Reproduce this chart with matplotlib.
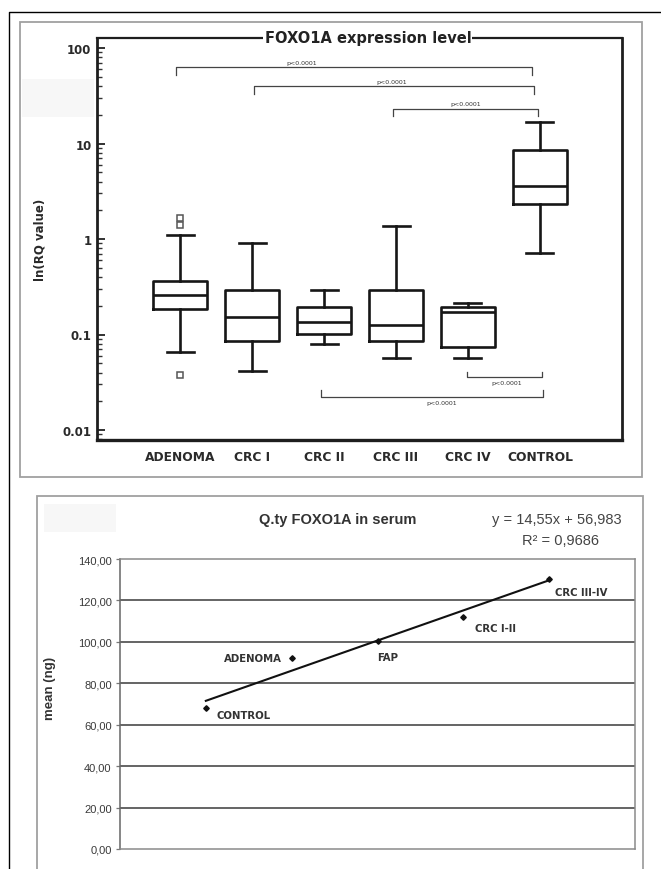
import matplotlib
matplotlib.use("Agg")
import matplotlib.pyplot as plt
from matplotlib.patches import Rectangle
from matplotlib.lines import Line2D
from matplotlib.ticker import FixedLocator, LogLocator, NullFormatter, FixedFormatter
import numpy as np

# ---------------- data: top panel (box plot, log scale) ----------------
groups = ["ADENOMA", "CRC I", "CRC II", "CRC III", "CRC IV", "CONTROL"]
q1 = [0.187, 0.0845, 0.102, 0.0845, 0.0748, 2.34]
medians = [0.262, 0.151, 0.134, 0.127, 0.174, 3.56]
q3 = [0.367, 0.289, 0.192, 0.289, 0.192, 8.65]
whisk_lo = [0.0648, 0.041, 0.080, 0.0574, 0.0574, 0.71]
whisk_hi = [1.11, 0.919, 0.289, 1.38, 0.216, 16.6]
outliers = [[0.038, 1.40, 1.65], [], [], [], [], []]
ytick_vals = [0.01, 0.1, 1, 10, 100]
ytick_labels = ["0.01", "0.1", "1", "10", "100"]
pval_text = "p<0.0001"
# brackets: (from group index, to group index, level, hook level, label x, label y)
brackets_top = [(0.94, 5.89, 63.2, 52.2, 2.69, 71.3),
                (2.03, 5.92, 40.0, 33.0, 3.94, 45.1),
                (3.96, 5.97, 23.0, 19.4, 4.97, 26.5)]
brackets_bottom = [(4.99, 6.03, 0.0359, 0.0405, 5.54, 0.0311),
                   (2.96, 6.04, 0.0222, 0.0262, 4.63, 0.0196)]

# ---------------- data: bottom panel (serum) ----------------
serum_groups = ["CONTROL", "ADENOMA", "FAP", "CRC I-II", "CRC III-IV"]
serum_x = [1, 2, 3, 4, 5]
serum_mean = [67.9, 92.4, 100.2, 112.2, 130.5]
trend_slope = 14.55
trend_intercept = 56.983
trend_r2 = 0.9686
serum_yticks = [0, 20, 40, 60, 80, 100, 120, 140]

W, H = 661, 870
fig = plt.figure(figsize=(W / 100, H / 100), dpi=100)
fig.patch.set_facecolor("white")


def fx(x):
    return x / W


def fy(y):
    return 1 - y / H


# decorative frames
fig.add_artist(Line2D([fx(9), fx(9), fx(661)], [fy(872), fy(13), fy(13)],
                      color="black", lw=1.0))
fig.add_artist(Rectangle((fx(20), fy(478)), fx(622), (478 - 23) / H,
                         fill=False, ec="#a0a0a0", lw=1.3))
fig.add_artist(Rectangle((fx(37), fy(880)), fx(606), (880 - 497) / H,
                         fill=False, ec="#a0a0a0", lw=1.3))
fig.add_artist(Rectangle((fx(22), fy(118)), fx(72), 38 / H,
                         fill=True, fc="#f7f7f7", ec="none"))
fig.add_artist(Rectangle((fx(44), fy(533)), fx(72), 28 / H,
                         fill=True, fc="#f7f7f7", ec="none"))

# ---------------- top axes ----------------
ax = fig.add_axes([fx(97), fy(441), fx(525), (441 - 39) / H])
stats = []
for i, g in enumerate(groups):
    stats.append(dict(label=g, med=medians[i], q1=q1[i], q3=q3[i],
                      whislo=whisk_lo[i], whishi=whisk_hi[i], fliers=outliers[i]))
positions = np.arange(1, len(groups) + 1)
lc = "#161616"
ax.bxp(stats, positions=positions, widths=0.75, capwidths=0.375,
       boxprops=dict(color=lc, lw=1.9),
       whiskerprops=dict(color=lc, lw=1.9),
       capprops=dict(color=lc, lw=1.9),
       medianprops=dict(color=lc, lw=1.9),
       flierprops=dict(marker="s", ms=4.5, mfc="none", mec="#555555", mew=1.1))
ax.set_yscale("log")
ax.set_ylim(10 ** (-2 - 10 / 95.5), 10 ** (2 + 10 / 95.5))
ax.set_xlim(-0.153, 7.139)
ax.yaxis.set_major_locator(FixedLocator(ytick_vals))
ax.yaxis.set_major_formatter(FixedFormatter(ytick_labels))
ax.yaxis.set_minor_locator(LogLocator(base=10, subs=np.arange(2, 10), numticks=20))
ax.yaxis.set_minor_formatter(NullFormatter())
ax.tick_params(axis="y", which="major", direction="in", length=6, width=1.3,
               color="#222", labelsize=8.5, pad=4, labelcolor="#2a2a2a")
ax.tick_params(axis="y", which="minor", direction="in", length=3.5, width=1.0, color="#333")
for t in ax.get_yticklabels():
    t.set_fontweight("bold")
ax.set_xticks(positions)
ax.set_xticklabels(groups, fontsize=8.8, fontweight="bold", color="#2a2a2a")
ax.tick_params(axis="x", length=0, pad=7)
for s, lw in zip(["left", "bottom", "right", "top"], [2.0, 2.4, 2.0, 1.6]):
    ax.spines[s].set_linewidth(lw)
    ax.spines[s].set_color("#1e1e1e")
fig.text(fx(40), fy(240), "ln(RQ value)", rotation=90, ha="center", va="center",
         fontsize=8.5, fontweight="bold", color="#2a2a2a")
ax.text(0.516, 1.0, "FOXO1A expression level", transform=ax.transAxes,
        ha="center", va="center", fontsize=10.5, fontweight="bold", color="#222",
        bbox=dict(facecolor="white", edgecolor="none", pad=0.8), zorder=5, clip_on=False)

bc = "#444444"
for x0, x1, lvl, hook, tx, ty in brackets_top:
    ax.plot([x0, x0, x1, x1], [hook, lvl, lvl, hook], color=bc, lw=0.9)
    ax.text(tx, ty, pval_text, fontsize=4.5, ha="center", va="center", color="#333")
for x0, x1, lvl, hook, tx, ty in brackets_bottom:
    ax.plot([x0, x0, x1, x1], [hook, lvl, lvl, hook], color=bc, lw=0.9)
    ax.text(tx, ty, pval_text, fontsize=4.5, ha="center", va="center", color="#333")

# ---------------- bottom axes ----------------
ax2 = fig.add_axes([fx(120), fy(850), fx(515), (850 - 560) / H])
ax2.set_xlim(0, 6)
ax2.set_ylim(0, 140)
ax2.set_yticks(serum_yticks)
ax2.set_yticklabels([f"{v:.2f}".replace(".", ",") for v in serum_yticks],
                    fontsize=8, color="#3a3a3a", family="Liberation Sans")
ax2.tick_params(axis="y", direction="out", length=3, width=0.9, color="#777", pad=3)
ax2.set_xticks([])
for v in serum_yticks[1:-1]:
    ax2.axhline(v, color="#4a4a4a", lw=1.2, zorder=1)
for s in ["left", "bottom", "right", "top"]:
    ax2.spines[s].set_color("#8a8a8a")
    ax2.spines[s].set_linewidth(1.1)
ax2.spines["left"].set_color("#666")

xl = np.array([serum_x[0], serum_x[-1]])
ax2.plot(xl, trend_slope * xl + trend_intercept, color="#111", lw=1.5, zorder=3)
ax2.plot(serum_x, serum_mean, linestyle="none", marker="D", ms=2.8, color="#111", zorder=4)

label_offsets = {"CONTROL": (8, -4.5, "left"), "ADENOMA": (-7, 0, "right"),
                 "FAP": (0, -11.5, "left"), "CRC I-II": (8.5, -8, "left"),
                 "CRC III-IV": (4.5, -9.5, "left")}
for g, x, y in zip(serum_groups, serum_x, serum_mean):
    dx, dy, ha = label_offsets[g]
    ax2.annotate(g, (x, y), xytext=(dx, dy), textcoords="offset points",
                 ha=ha, va="center", fontsize=7.3, fontweight="bold", color="#333")

fig.text(fx(50), fy(688), "mean (ng)", rotation=90, ha="center", va="center",
         fontsize=9.5, fontweight="bold", color="#333", family="Liberation Sans")

fig.text(fx(338), fy(520), "Q.ty FOXO1A in serum", ha="center", va="center",
         fontsize=10.5, fontweight="bold", color="#333", family="Liberation Sans")
fig.text(fx(557), fy(520), f"y = {trend_slope:.2f}x + {trend_intercept:.3f}".replace(".", ","),
         ha="center", va="center", fontsize=10.5, color="#444", family="Liberation Sans")
fig.text(fx(560), fy(541), f"R² = {trend_r2:.4f}".replace(".", ","),
         ha="center", va="center", fontsize=10.5, color="#444", family="Liberation Sans")

fig.savefig("out.png", dpi=100, facecolor="white")
